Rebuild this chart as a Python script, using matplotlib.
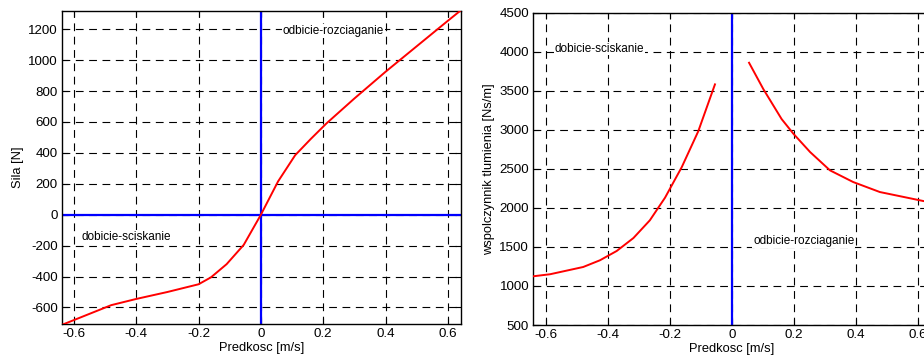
import matplotlib.pyplot as plt
import numpy as np

plt.rcParams['font.family'] = ['Liberation Sans', 'DejaVu Sans']
plt.rcParams['axes.unicode_minus'] = False

# sila vs predkosc
v_force = [-0.635, -0.48, -0.40, -0.30, -0.20, -0.16, -0.11, -0.055, 0.0,
           0.055, 0.11, 0.16, 0.21, 0.30, 0.40, 0.50, 0.60, 0.64]
force = [-710, -585, -545, -500, -450, -405, -320, -195, 0,
         215, 385, 490, 590, 752, 925, 1090, 1255, 1320]

# wspolczynnik tlumienia, galaz sciskania
v_comp = [-0.641, -0.587, -0.48, -0.426, -0.372, -0.318, -0.265, -0.216, -0.162, -0.109, -0.055]
c_comp = [1124, 1150, 1243, 1329, 1448, 1614, 1841, 2131, 2523, 2980, 3582]

# galaz rozciagania
v_reb = [0.055, 0.101, 0.160, 0.198, 0.252, 0.316, 0.391, 0.477, 0.617, 0.64]
c_reb = [3859, 3522, 3138, 2950, 2715, 2481, 2331, 2203, 2088, 2075]

xticks = [-0.6, -0.4, -0.2, 0, 0.2, 0.4, 0.6]
xticklabels = ['-0.6', '-0.4', '-0.2', '0', '0.2', '0.4', '0.6']

fig = plt.figure(figsize=(9.24, 3.59), dpi=100)
ax1 = fig.add_axes([62/924, 1-324/359, (461-62)/924, (324-11)/359])
ax2 = fig.add_axes([533.3/924, 1-325/359, (930.4-533.3)/924, (325-12.7)/359])

fs = 8.5
fs_tick = 9.6
fs_lab = 9.3
box = dict(facecolor='white', edgecolor='none', pad=0.5)

def style(ax):
    ax.grid(True, color='black', linestyle=(0, (7, 5)), linewidth=0.8)
    ax.tick_params(direction='in', top=True, right=True, length=4, labelsize=fs_tick, pad=3)
    for s in ax.spines.values():
        s.set_linewidth(1.0)
    ax.set_xticks(xticks)
    ax.set_xticklabels(xticklabels)
    ax.set_xlabel('Predkosc [m/s]', fontsize=fs_lab, labelpad=1)

# lewy
ax1.plot(v_force, force, color='red', linewidth=1.4, zorder=3)
ax1.axvline(0, color='blue', linewidth=1.6, zorder=2)
ax1.axhline(0, color='blue', linewidth=1.6, zorder=2)
ax1.set_xlim(-0.638, 0.642)
ax1.set_ylim(-707, 1318)
ax1.set_yticks(range(-600, 1201, 200))
style(ax1)
ax1.set_ylabel('Sila [N]', fontsize=fs_lab, labelpad=3)
ax1.text(0.07, 1189, 'odbicie-rozciaganie', fontsize=fs, va='center', bbox=box, zorder=4)
ax1.text(-0.576, -142, 'dobicie-sciskanie', fontsize=fs, va='center', bbox=box, zorder=4)

# prawy
ax2.plot(v_comp, c_comp, color='red', linewidth=1.4, zorder=3)
ax2.plot(v_reb, c_reb, color='red', linewidth=1.4, zorder=3)
ax2.axvline(0, color='blue', linewidth=1.6, zorder=2)
ax2.set_xlim(-0.641, 0.64)
ax2.set_ylim(500, 4500)
ax2.set_yticks(range(500, 4501, 500))
style(ax2)
ax2.set_ylabel('wspolczynnik tlumienia [Ns/m]', fontsize=fs_lab, labelpad=3)
ax2.text(-0.572, 4039, 'dobicie-sciskanie', fontsize=fs, va='center', bbox=box, zorder=4)
ax2.text(0.068, 1576, 'odbicie-rozciaganie', fontsize=fs, va='center', bbox=box, zorder=4)

fig.savefig('out.png', dpi=100)
